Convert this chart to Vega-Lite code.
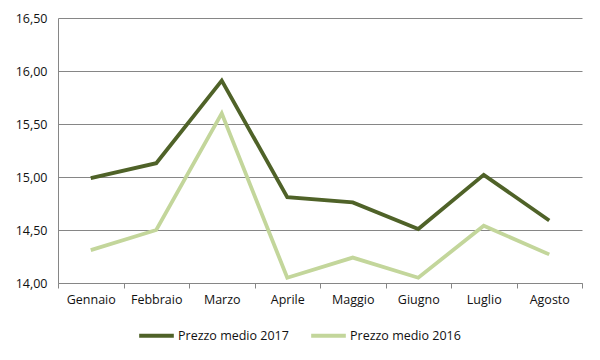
{
  "$schema": "https://vega.github.io/schema/vega-lite/v6.json",
  "width": 524,
  "height": 265,
  "autosize": "none",
  "padding": {"left": 58, "top": 18, "right": 18, "bottom": 77},
  "background": "white",
  "config": {
    "view": {"stroke": null},
    "font": "Open Sans",
    "axis": {"labelFont": "Open Sans", "labelFontSize": 12.5, "labelColor": "#111111"},
    "legend": {"labelFont": "Open Sans", "labelFontSize": 12.5, "labelColor": "#111111"}
  },
  "data": {
    "values": [
      {"mese": "Gennaio", "serie": "Prezzo medio 2017", "prezzo": 14.99},
      {"mese": "Febbraio", "serie": "Prezzo medio 2017", "prezzo": 15.13},
      {"mese": "Marzo", "serie": "Prezzo medio 2017", "prezzo": 15.91},
      {"mese": "Aprile", "serie": "Prezzo medio 2017", "prezzo": 14.81},
      {"mese": "Maggio", "serie": "Prezzo medio 2017", "prezzo": 14.76},
      {"mese": "Giugno", "serie": "Prezzo medio 2017", "prezzo": 14.51},
      {"mese": "Luglio", "serie": "Prezzo medio 2017", "prezzo": 15.02},
      {"mese": "Agosto", "serie": "Prezzo medio 2017", "prezzo": 14.59},
      {"mese": "Gennaio", "serie": "Prezzo medio 2016", "prezzo": 14.31},
      {"mese": "Febbraio", "serie": "Prezzo medio 2016", "prezzo": 14.50},
      {"mese": "Marzo", "serie": "Prezzo medio 2016", "prezzo": 15.60},
      {"mese": "Aprile", "serie": "Prezzo medio 2016", "prezzo": 14.05},
      {"mese": "Maggio", "serie": "Prezzo medio 2016", "prezzo": 14.24},
      {"mese": "Giugno", "serie": "Prezzo medio 2016", "prezzo": 14.05},
      {"mese": "Luglio", "serie": "Prezzo medio 2016", "prezzo": 14.54},
      {"mese": "Agosto", "serie": "Prezzo medio 2016", "prezzo": 14.27}
    ]
  },
  "mark": {"type": "line", "strokeWidth": 3.8, "strokeJoin": "miter"},
  "encoding": {
    "x": {
      "field": "mese",
      "type": "nominal",
      "sort": ["Gennaio", "Febbraio", "Marzo", "Aprile", "Maggio", "Giugno", "Luglio", "Agosto"],
      "scale": {"type": "band", "paddingInner": 0, "paddingOuter": 0},
      "bandPosition": 0.5,
      "axis": {
        "title": null,
        "labelAngle": 0,
        "tickBand": "extent",
        "tickSize": 5,
        "tickColor": "#868686",
        "domainColor": "#868686",
        "labelPadding": 5,
        "grid": false
      }
    },
    "y": {
      "field": "prezzo",
      "type": "quantitative",
      "scale": {"domain": [14, 16.5], "nice": false, "zero": false},
      "axis": {
        "title": null,
        "values": [14, 14.5, 15, 15.5, 16, 16.5],
        "labelExpr": "replace(format(datum.value, '.2f'), '.', ',')",
        "ticks": false,
        "labelPadding": 11,
        "gridColor": "#868686",
        "domainColor": "#868686",
        "gridWidth": 1
      }
    },
    "color": {
      "field": "serie",
      "type": "nominal",
      "scale": {"domain": ["Prezzo medio 2017", "Prezzo medio 2016"], "range": ["#4f6228", "#c3d69b"]},
      "legend": {
        "title": null,
        "orient": "none",
        "direction": "horizontal",
        "legendX": 79,
        "legendY": 298,
        "symbolType": "stroke",
        "symbolSize": 1200,
        "symbolStrokeWidth": 4,
        "labelOffset": 2,
        "columnPadding": 14
      }
    }
  }
}
